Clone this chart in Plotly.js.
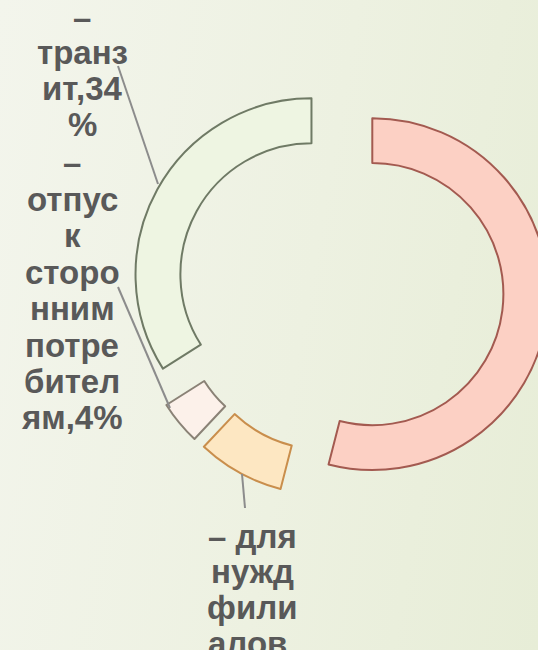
<!DOCTYPE html>
<html>
<head>
<meta charset="utf-8">
<script src="https://cdn.plot.ly/plotly-3.0.1.min.js"></script>
<style>
  html, body { margin: 0; padding: 0; overflow: hidden; width: 538px; height: 650px;
    background: linear-gradient(100deg, #f3f5ec 0%, #edf1e1 55%, #e7edd7 100%); }
  #chart { width: 600px; height: 650px; }
</style>
</head>
<body>
<div id="chart"></div>
<script>
// Data
const categories = ['прочее', 'для нужд филиалов', 'отпуск сторонним потребителям', 'транзит'];
const shares = [54, 8, 4, 34];
const sliceFill = ['#fcd0c4', '#fde7c2', '#fcf1ea', '#eef5e2'];
const sliceLine = ['#a35a50', '#c98e4c', '#8a8276', '#6f7a65'];
// Label lines, wrapped as in the picture
const labelTransit = ['–', 'транз', 'ит,34', '%'];
const labelOther = ['–', 'отпус', 'к', 'сторо', 'нним', 'потре', 'бител', 'ям,4%'];
const labelBranches = ['– для', 'нужд', 'фили', 'алов,', '8%'];

const W = 600, H = 650;
const px = x => x / W;
const py = y => 1 - y / H;

const trace = {
  type: 'pie',
  labels: categories,
  values: shares,
  sort: false,
  direction: 'clockwise',
  rotation: 0,
  hole: 0.745,
  pull: [0.185, 0.185, 0.185, 0.185],
  textinfo: 'none',
  hoverinfo: 'none',
  showlegend: false,
  marker: { colors: sliceFill, line: { color: sliceLine, width: 2 } },
  domain: { x: [px(131.5), px(548.5)], y: [py(498.5), py(81.5)] }
};

const labelFont = { family: 'Liberation Sans, Arial, sans-serif', size: 33, color: '#595959', weight: 'bold' };

function lineBlock(lines, cx, firstY, step) {
  return lines.map((t, i) => ({
    text: t, xref: 'paper', yref: 'paper',
    x: px(cx), y: py(firstY + i * step),
    xanchor: 'center', yanchor: 'middle',
    showarrow: false, font: labelFont
  }));
}

const layout = {
  width: W, height: H,
  margin: { l: 0, r: 0, t: 0, b: 0 },
  paper_bgcolor: 'rgba(0,0,0,0)',
  plot_bgcolor: 'rgba(0,0,0,0)',
  annotations: [
    ...lineBlock(labelTransit, 82, 17, 35.7),
    ...lineBlock(labelOther, 72, 163, 36.4),
    ...lineBlock(labelBranches, 252, 536, 35.7)
  ],
  shapes: [
    { type: 'line', xref: 'paper', yref: 'paper', x0: px(118), y0: py(66), x1: px(158), y1: py(184), line: { color: '#8c8c8c', width: 2 } },
    { type: 'line', xref: 'paper', yref: 'paper', x0: px(118), y0: py(287), x1: px(170), y1: py(408), line: { color: '#8c8c8c', width: 2 } },
    { type: 'line', xref: 'paper', yref: 'paper', x0: px(242), y0: py(474), x1: px(245), y1: py(508), line: { color: '#8c8c8c', width: 2 } }
  ]
};

Plotly.newPlot('chart', [trace], layout, { displayModeBar: false, staticPlot: true });
</script>
</body>
</html>
